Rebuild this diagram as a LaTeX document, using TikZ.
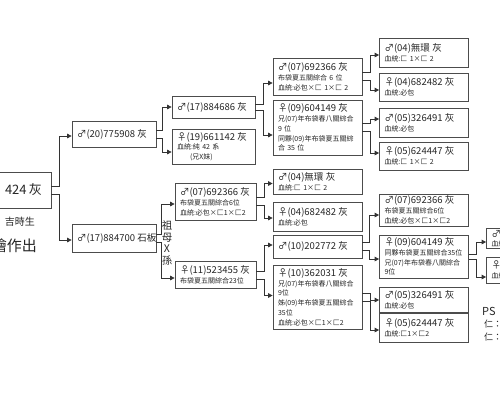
\documentclass[tikz,border=0pt]{standalone}
\usepackage{fontspec}
\setmainfont{Noto Sans CJK TC}
\usetikzlibrary{arrows.meta}
\newcommand\tl{\fontsize{9.5}{11}\selectfont}
\newcommand\sm{\fontsize{7}{9.8}\selectfont}
\newcommand\conn[5]{\draw[cn] ([yshift=#2pt]#1.east) -- ++(#5,0) |- ([yshift=#4pt]#3.west);}
\begin{document}
\begin{tikzpicture}[x=1pt,y=-1pt,
  bx/.style={draw=black!70, line width=0.7pt, rectangle, inner xsep=5pt, inner ysep=1pt,
    align=left, font=\sm, text=black!85},
  c1/.style={bx, text width=74pt},
  c2/.style={bx, text width=73pt},
  c2b/.style={bx, text width=71pt},
  c3/.style={bx, text width=79pt},
  c4/.style={bx, text width=79pt},
  lbl/.style={text=black!85, inner sep=0pt},
  cn/.style={draw=black!80, line width=0.7pt, -{Triangle[length=4.5pt,width=4.5pt]}}]
\useasboundingbox (0,0) rectangle (500,400);

% root
\node[bx, text width=101pt, minimum height=36pt, align=right] (root) at (-4.5,190)
  {\fontsize{13}{15}\selectfont 424~灰\hspace*{4pt}};
\node[lbl, font=\fontsize{10}{12}\selectfont] (birth) at (20,222) {吉時生};
\node[lbl, font=\fontsize{15}{17}\selectfont, anchor=east] (made) at (37,246) {繪作出};

% level 1
\node[c1, minimum height=26pt] (A) at (114,134) {{\tl ♂(20)775908~灰}};
\node[c1, minimum height=28pt] (B) at (114,238) {{\tl ♂(17)884700~石板}};

% level 2
\node[c2, minimum height=22pt] (C) at (213.5,107) {{\tl ♂(17)884686~灰}};
\node[c2, minimum height=35pt] (D) at (213.5,146.5)
  {{\tl ♀(19)661142~灰}\\血統:純~42~系\\\hspace*{13pt}(兄X妹)};
\node[c2b, minimum height=37pt] (K) at (215.5,201.5)
  {{\tl ♂(07)692366~灰}\\布袋夏五關綜合6位\\血統:必包×匚1×匚2};
\node[c2b, minimum height=27pt] (L) at (215.5,275)
  {{\tl ♀(11)523455~灰}\\布袋夏五關綜合23位};
\node[lbl, align=center, font=\fontsize{10.5}{11.5}\selectfont] (gm) at (167,243) {祖\\母\\X\\孫};

% level 3
\node[c3, minimum height=37pt] (E) at (317.5,76.5)
  {{\tl ♂(07)692366~灰}\\布袋夏五關綜合~6~位\\血統:必包×匚~1×匚~2};
\node[c3, minimum height=55pt] (F) at (317.5,127.5)
  {{\tl ♀(09)604149~灰}\\兄(07)年布袋春八關綜合\\9~位\\同夥(09)年布袋夏五關綜\\合~35~位};
\node[c3, minimum height=25pt] (M) at (317.5,182)
  {{\tl ♂(04)無環~灰}\\血統:匚~1×匚~2};
\node[c3, minimum height=29pt] (N) at (317.5,216.5)
  {{\tl ♀(04)682482~灰}\\血統:必包};
\node[c3, minimum height=23pt] (O) at (317.5,246.5) {{\tl ♂(10)202772~灰}};
\node[c3, minimum height=64pt] (P) at (317.5,297)
  {{\tl ♀(10)362031~灰}\\兄(07)年布袋春八關綜合\\9位\\姊(09)年布袋夏五關綜合\\35位\\血統:必包×匚1×匚2};

% level 4
\node[c4, minimum height=29pt] (G) at (424,52.5) {{\tl ♂(04)無環~灰}\\血統:匚~1×匚~2};
\node[c4, minimum height=28pt] (H) at (424,87) {{\tl ♀(04)682482~灰}\\血統:必包};
\node[c4, minimum height=29pt] (I) at (424,122.5) {{\tl ♂(05)326491~灰}\\血統:必包};
\node[c4, minimum height=28pt] (J) at (424,156) {{\tl ♀(05)624447~灰}\\血統:匚~1×匚~2};
\node[c4, minimum height=32pt] (Q) at (424,210)
  {{\tl ♂(07)692366~灰}\\布袋夏五關綜合6位\\血統:必包×匚1×匚2};
\node[c4, minimum height=43pt] (R) at (424,256.5)
  {{\tl ♀(09)604149~灰}\\同夥布袋夏五關綜合35位\\兄(07)年布袋春八關綜合\\9位};
\node[c4, minimum height=25pt] (S) at (424,299.5) {{\tl ♂(05)326491~灰}\\血統:必包};
\node[c4, minimum height=29pt] (T) at (424,327.5) {{\tl ♀(05)624447~灰}\\血統:匚1×匚2};

% level 5 (cut at the right edge)
\node[c4, minimum height=20pt] (U) at (531,238.5) {{\tl ♂(}\\血統};
\node[c4, minimum height=26pt] (V) at (531,270) {{\tl ♀(}\\血統};

% note
\node[lbl, anchor=west, font=\fontsize{11}{13}\selectfont] (ps) at (482,311) {PS};
\node[lbl, anchor=west, font=\fontsize{9}{11}\selectfont] (n1) at (484,324) {仁：};
\node[lbl, anchor=west, font=\fontsize{9}{11}\selectfont] (n2) at (484,337) {仁：};

% connectors
\conn{root}{4}{A}{-2}{8}
\conn{root}{-4}{B}{-2}{8}
\conn{A}{4}{C}{0}{6}
\conn{A}{-4}{D}{-5.5}{6}
\conn{B}{4}{K}{-2.5}{5}
\conn{B}{-4}{L}{-3}{5}
\conn{C}{3}{E}{-6.5}{8}
\conn{C}{-3}{F}{-7.5}{8}
\conn{K}{4}{M}{-1.5}{8}
\conn{K}{-4}{N}{-1.5}{8}
\conn{L}{4}{O}{1.5}{8}
\conn{L}{-4}{P}{1.5}{8}
\conn{E}{4}{G}{-2.5}{8}
\conn{E}{-4}{H}{-3}{8}
\conn{F}{4}{I}{3.5}{8}
\conn{F}{-4}{J}{3}{8}
\conn{O}{4}{Q}{-5}{7}
\conn{O}{-4}{R}{-2.5}{7}
\conn{P}{4}{S}{-0.5}{8}
\conn{P}{-4}{T}{-2.5}{8}
\conn{R}{2.5}{U}{-3.5}{7}
\conn{R}{-2.5}{V}{-7}{7}
\end{tikzpicture}
\end{document}
